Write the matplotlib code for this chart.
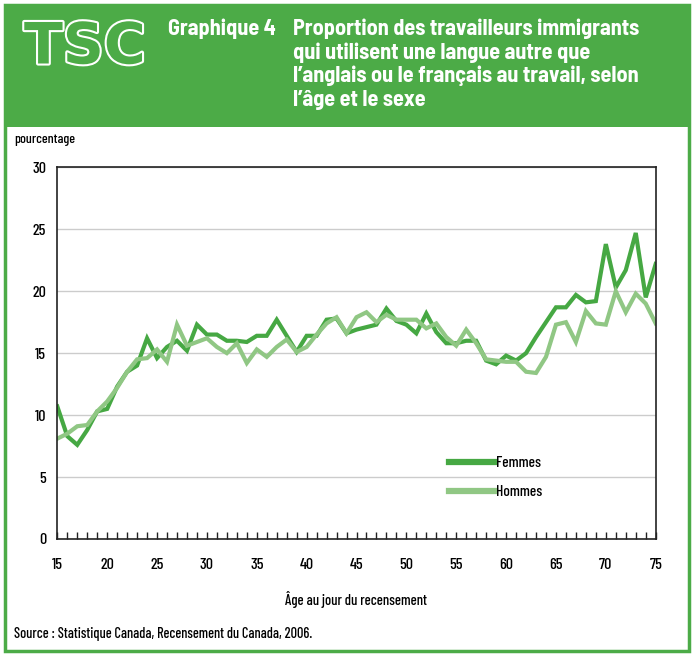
import matplotlib
matplotlib.use("Agg")
import matplotlib.pyplot as plt
import matplotlib.patheffects as pe
from matplotlib.patches import Rectangle

# ages 15..75
ages = list(range(15, 76))

femmes = [10.7, 8.3, 7.6, 8.8, 10.3, 10.5, 12.3, 13.5, 14.0, 16.2,
          14.6, 15.5, 16.0, 15.2, 17.3, 16.5, 16.5, 16.0, 16.0, 15.9,
          16.4, 16.4, 17.7, 16.4, 15.1, 16.4, 16.4, 17.7, 17.8, 16.6,
          16.9, 17.1, 17.3, 18.6, 17.6, 17.3, 16.6, 18.2, 16.7, 15.8,
          15.8, 16.0, 16.0, 14.4, 14.1, 14.8, 14.4, 15.0, 16.3, 17.5,
          18.7, 18.7, 19.7, 19.1, 19.2, 23.8, 20.3, 21.7, 24.7, 19.5,
          22.2]

hommes = [8.1, 8.5, 9.1, 9.2, 10.3, 11.1, 12.2, 13.5, 14.5, 14.6,
          15.3, 14.3, 17.3, 15.6, 15.9, 16.2, 15.5, 15.0, 15.8, 14.2,
          15.3, 14.7, 15.5, 16.1, 15.1, 15.5, 16.5, 17.4, 17.9, 16.6,
          17.9, 18.3, 17.5, 18.1, 17.7, 17.7, 17.7, 17.0, 17.4, 16.3,
          15.6, 16.9, 15.8, 14.5, 14.4, 14.3, 14.3, 13.5, 13.4, 14.7,
          17.3, 17.5, 15.9, 18.4, 17.4, 17.3, 20.0, 18.3, 19.8, 19.0,
          17.4]

xticks = [15, 20, 25, 30, 35, 40, 45, 50, 55, 60, 65, 70, 75]
yticks = [0, 5, 10, 15, 20, 25, 30]

title_lines = ["Proportion des travailleurs immigrants",
               "qui utilisent une langue autre que",
               "l\u2019anglais ou le fran\u00e7ais au travail, selon",
               "l\u2019\u00e2ge et le sexe"]

W, H = 696, 658
green = '#4cab47'
dark = '#46a843'
light = '#90c784'
plt.rcParams['font.family'] = ['Barlow Condensed', 'DejaVu Sans']
plt.rcParams['font.weight'] = 'medium'
title_font = ['Barlow Semi Condensed', 'Barlow Condensed', 'DejaVu Sans']


def fx(px):
    return px / W


def fy(py):
    return 1 - py / H


fig = plt.figure(figsize=(W / 100, H / 100), dpi=100)

# green frame and header band
fig.patches.append(Rectangle((fx(5), fy(651)), fx(684), 646 / H, transform=fig.transFigure,
                             facecolor='none', edgecolor=green, lw=2.5))
fig.patches.append(Rectangle((fx(5), fy(127)), fx(684), 122 / H, transform=fig.transFigure,
                             facecolor=green, edgecolor='none'))

# TSC logo, outlined white
fig.text(fx(24), fy(42), "TSC", family=['DejaVu Sans'], weight='bold', fontsize=41,
         color=green, va='center_baseline', ha='left',
         path_effects=[pe.withStroke(linewidth=3.0, foreground='white')])

fig.text(fx(168), fy(29), "Graphique 4", color='white', fontsize=16, weight='bold', va='center',
         family=title_font)
for i, line in enumerate(title_lines):
    fig.text(fx(293), fy(29 + i * 23.5), line, color='white', fontsize=16, weight='bold', va='center',
             family=title_font)

ax = fig.add_axes([fx(57.3), fy(539), fx(655.7 - 57.3), (539 - 167.3) / H])
ax.plot(ages, femmes, color=dark, lw=3, label='Femmes', solid_joinstyle='miter')
ax.plot(ages, hommes, color=light, lw=3, label='Hommes', solid_joinstyle='miter')

ax.set_xlim(15, 75)
ax.set_ylim(0, 30)
ax.set_xticks(xticks)
ax.set_xticks(ages, minor=True)
ax.set_yticks(yticks)
ax.tick_params(axis='x', which='both', direction='in', length=5, width=1, color='#222222',
               labelsize=11.5, pad=14)
ax.tick_params(axis='y', length=0, labelsize=11.5, pad=8)
ax.grid(axis='y', color='#cccccc', lw=1)
ax.set_axisbelow(True)
for s in ax.spines.values():
    s.set_color('#222222')
    s.set_linewidth(1.2)

leg = ax.legend(loc='upper left', bbox_to_anchor=((443 - 57.3) / 598.4, (539 - 450) / 371.7),
                frameon=False, fontsize=11, handlelength=3.0, handletextpad=0.1,
                labelspacing=1.0, borderaxespad=0)
for h in leg.get_lines():
    h.set_linewidth(4.5)

fig.text(fx(14), fy(140), "pourcentage", fontsize=10, va='center')
fig.text(fx(356), fy(600), "\u00c2ge au jour du recensement", fontsize=10.5, ha='center', va='center')
fig.text(fx(14), fy(634), "Source : Statistique Canada, Recensement du Canada, 2006.", fontsize=10.3,
         va='center')

fig.savefig('out.png', dpi=100)
